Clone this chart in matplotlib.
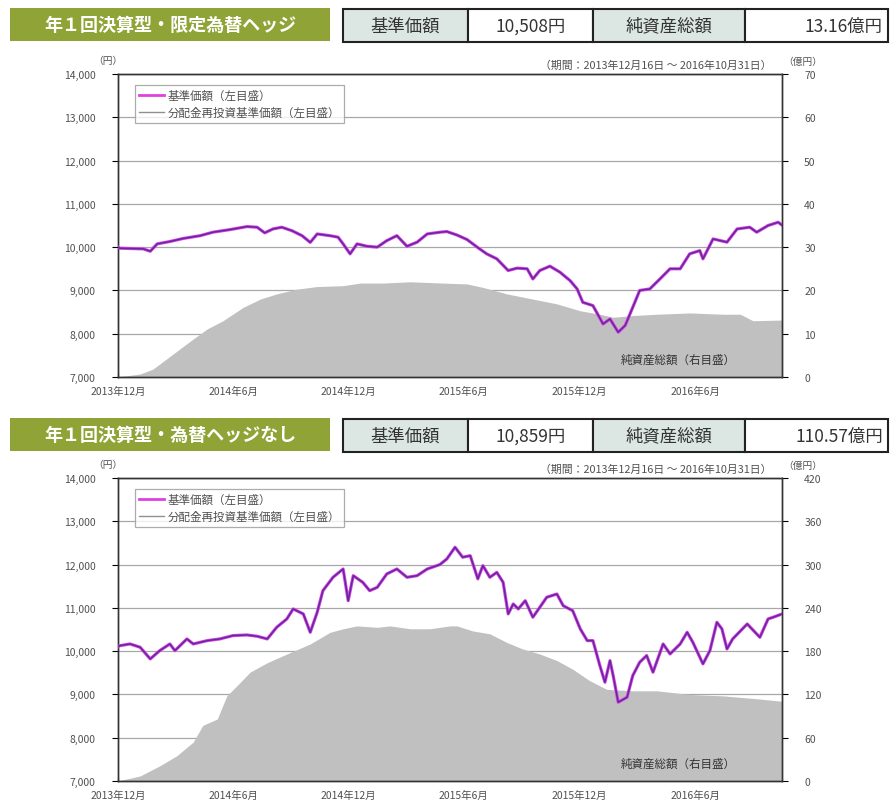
import matplotlib
matplotlib.use("Agg")
import matplotlib.pyplot as plt
import matplotlib.dates as mdates
from matplotlib.patches import Rectangle
from matplotlib.lines import Line2D
import datetime as dt

plt.rcParams['font.family'] = ['Noto Sans CJK JP', 'DejaVu Sans']

# ---------------- data ----------------
top_title = "年１回決算型・限定為替ヘッジ"
top_table = ["基準価額", "10,508円", "純資産総額", "13.16億円"]
bot_title = "年１回決算型・為替ヘッジなし"
bot_table = ["基準価額", "10,859円", "純資産総額", "110.57億円"]

top_price_dates = ["2013-12-16", "2013-12-19", "2014-01-25", "2014-02-05", "2014-02-16", "2014-03-08",
                   "2014-03-29", "2014-04-25", "2014-05-15", "2014-06-11", "2014-07-08", "2014-07-24",
                   "2014-08-05", "2014-08-18", "2014-09-01", "2014-09-17", "2014-10-03", "2014-10-16",
                   "2014-10-27", "2014-11-16", "2014-11-29", "2014-12-07", "2014-12-18", "2014-12-29",
                   "2015-01-14", "2015-01-30", "2015-02-14", "2015-03-02", "2015-03-18", "2015-04-03",
                   "2015-04-19", "2015-05-09", "2015-05-20", "2015-06-05", "2015-06-21", "2015-07-07",
                   "2015-07-22", "2015-08-07", "2015-08-25", "2015-09-08", "2015-09-24", "2015-10-03",
                   "2015-10-14", "2015-10-30", "2015-11-15", "2015-12-01", "2015-12-12", "2015-12-21",
                   "2016-01-06", "2016-01-22", "2016-02-02", "2016-02-15", "2016-02-26", "2016-03-08",
                   "2016-03-20", "2016-04-05", "2016-04-21", "2016-05-07", "2016-05-23", "2016-06-07",
                   "2016-06-23", "2016-06-28", "2016-07-14", "2016-08-05", "2016-08-21", "2016-09-10",
                   "2016-09-21", "2016-10-09", "2016-10-25", "2016-10-31"]
top_price_vals = [10000, 9975, 9960, 9905, 10075, 10130,
                  10200, 10265, 10345, 10405, 10475, 10460,
                  10330, 10420, 10460, 10380, 10265, 10110,
                  10305, 10265, 10230, 10075, 9845, 10075,
                  10020, 10000, 10150, 10265, 10020, 10115,
                  10305, 10345, 10360, 10280, 10175, 10000,
                  9845, 9730, 9460, 9515, 9500, 9265,
                  9460, 9560, 9420, 9225, 9035, 8725,
                  8650, 8225, 8340, 8035, 8190, 8575,
                  9000, 9035, 9265, 9500, 9500, 9845,
                  9920, 9730, 10190, 10115, 10420, 10460,
                  10345, 10500, 10575, 10508]

top_nav_dates = ["2013-12-16", "2014-01-20", "2014-02-09", "2014-03-03", "2014-03-24", "2014-04-14",
                 "2014-05-06", "2014-05-31", "2014-07-02", "2014-07-29", "2014-08-24", "2014-09-25",
                 "2014-10-27", "2014-12-07", "2015-01-03", "2015-02-08", "2015-03-23", "2015-05-14",
                 "2015-06-21", "2015-07-16", "2015-08-23", "2015-10-03", "2015-11-10", "2015-12-17",
                 "2016-01-17", "2016-02-07", "2016-03-09", "2016-04-16", "2016-06-07", "2016-07-30",
                 "2016-08-26", "2016-09-15", "2016-10-31"]
top_nav_vals = [0, 0.7, 1.8, 4.2, 6.5, 8.8,
                11.1, 13.0, 16.1, 18.0, 19.2, 20.3,
                20.9, 21.1, 21.7, 21.7, 22.0, 21.7,
                21.5, 20.7, 19.2, 18.0, 16.9, 15.3,
                14.5, 13.8, 14.2, 14.5, 14.8, 14.5,
                14.5, 13.0, 13.16]

bot_price_dates = ["2013-12-16", "2013-12-19", "2014-01-04", "2014-01-20", "2014-02-05", "2014-02-20",
                   "2014-03-08", "2014-03-16", "2014-04-04", "2014-04-14", "2014-05-06", "2014-05-26",
                   "2014-06-16", "2014-07-08", "2014-07-24", "2014-08-09", "2014-08-24", "2014-09-09",
                   "2014-09-19", "2014-10-05", "2014-10-16", "2014-10-27", "2014-11-05", "2014-11-21",
                   "2014-12-07", "2014-12-15", "2014-12-23", "2015-01-07", "2015-01-18", "2015-01-30",
                   "2015-02-14", "2015-03-02", "2015-03-18", "2015-04-03", "2015-04-19", "2015-05-09",
                   "2015-05-20", "2015-06-02", "2015-06-14", "2015-06-26", "2015-07-08", "2015-07-16",
                   "2015-07-27", "2015-08-07", "2015-08-17", "2015-08-25", "2015-09-02", "2015-09-10",
                   "2015-09-21", "2015-10-03", "2015-10-14", "2015-10-25", "2015-11-10", "2015-11-20",
                   "2015-12-05", "2015-12-17", "2015-12-28", "2016-01-06", "2016-01-17", "2016-01-25",
                   "2016-02-02", "2016-02-07", "2016-02-15", "2016-02-29", "2016-03-09", "2016-03-20",
                   "2016-03-31", "2016-04-10", "2016-04-26", "2016-05-07", "2016-05-23", "2016-06-03",
                   "2016-06-12", "2016-06-28", "2016-07-09", "2016-07-20", "2016-07-28", "2016-08-05",
                   "2016-08-14", "2016-09-06", "2016-09-26", "2016-10-09", "2016-10-17", "2016-10-31"]
bot_price_vals = [10100, 10127, 10166, 10090, 9820, 10012,
                  10166, 10012, 10282, 10166, 10243, 10282,
                  10360, 10374, 10344, 10282, 10552, 10744,
                  10975, 10860, 10436, 10898, 11397, 11706,
                  11898, 11166, 11744, 11590, 11397, 11475,
                  11783, 11898, 11706, 11744, 11898, 12000,
                  12130, 12400, 12170, 12205, 11670, 11975,
                  11706, 11820, 11590, 10860, 11090, 10975,
                  11166, 10783, 11013, 11245, 11320, 11050,
                  10935, 10513, 10243, 10243, 9665, 9282,
                  9781, 9435, 8820, 8935, 9435, 9744,
                  9898, 9513, 10166, 9935, 10166, 10436,
                  10205, 9705, 10012, 10667, 10513, 10051,
                  10282, 10628, 10320, 10744, 10783, 10859]

bot_nav_dates = ["2013-12-16", "2014-01-20", "2014-02-20", "2014-03-19", "2014-04-14", "2014-04-29",
                 "2014-05-22", "2014-06-06", "2014-06-22", "2014-07-13", "2014-08-09", "2014-09-09",
                 "2014-10-16", "2014-11-16", "2014-12-07", "2014-12-29", "2015-01-30", "2015-02-19",
                 "2015-03-23", "2015-04-23", "2015-05-25", "2015-06-05", "2015-06-30", "2015-07-27",
                 "2015-08-23", "2015-09-17", "2015-10-14", "2015-11-10", "2015-12-05", "2016-01-01",
                 "2016-01-28", "2016-03-09", "2016-04-16", "2016-06-07", "2016-07-30", "2016-09-21",
                 "2016-10-31"]
bot_nav_vals = [0, 7, 21, 35, 54, 77,
                86, 118, 132, 151, 164, 176,
                190, 206, 211, 215, 213, 215,
                211, 211, 215, 215, 208, 204,
                192, 183, 176, 167, 155, 139,
                127, 125, 125, 120, 118, 114,
                110.57]

tick_dates = ["2013-12-16", "2014-06-16", "2014-12-16", "2015-06-16", "2015-12-16", "2016-06-16"]
tick_labels = ["2013年12月", "2014年6月", "2014年12月", "2015年6月", "2015年12月", "2016年6月"]
left_ticks = [7000, 8000, 9000, 10000, 11000, 12000, 13000, 14000]
top_right_ticks = [0, 10, 20, 30, 40, 50, 60, 70]
bot_right_ticks = [0, 60, 120, 180, 240, 300, 360, 420]

legend_labels = ["基準価額（左目盛）", "分配金再投資基準価額（左目盛）"]
nav_label = "純資産総額（右目盛）"
period_text = "（期間：2013年12月16日 ～ 2016年10月31日）"
left_unit = "（円）"
right_unit = "（億円）"

# ---------------- drawing ----------------
W, H = 893, 803
fig = plt.figure(figsize=(W / 100, H / 100), dpi=100)
fig.patch.set_facecolor("white")

TXT = "#505050"
GREEN = "#8FA336"
CELL_BG = "#DCE7E3"
MAGENTA = "#E040E0"
CORE = "#5E2AA0"


def d2n(lst):
    return mdates.date2num([dt.datetime.strptime(s, "%Y-%m-%d") for s in lst])


def px_rect(x0, y0, x1, y1):
    return [x0 / W, 1 - y1 / H, (x1 - x0) / W, (y1 - y0) / H]


def header(y0, y1, title, cells):
    r = px_rect(10, y0, 330, y1)
    fig.patches.append(Rectangle((r[0], r[1]), r[2], r[3], transform=fig.transFigure,
                                 facecolor=GREEN, edgecolor="none"))
    fig.text(r[0] + r[2] / 2, r[1] + r[3] / 2, title, color="white", fontsize=13,
             fontweight="bold", ha="center", va="center")
    bounds = [343, 468, 593, 745, 888]
    for i in range(4):
        rr = px_rect(bounds[i], y0 + 1, bounds[i + 1], y1 + 1)
        fc = CELL_BG if i % 2 == 0 else "white"
        fig.patches.append(Rectangle((rr[0], rr[1]), rr[2], rr[3], transform=fig.transFigure,
                                     facecolor=fc, edgecolor="#222222", linewidth=1.5))
        if i == 3:
            fig.text(rr[0] + rr[2] - 5 / W, rr[1] + rr[3] / 2, cells[i], color="#333333",
                     fontsize=12.5, ha="right", va="center")
        else:
            fig.text(rr[0] + rr[2] / 2, rr[1] + rr[3] / 2, cells[i], color="#333333",
                     fontsize=12.5, ha="center", va="center")


def panel(ytop, ybot, pdates, pvals, ndates, nvals, rticks):
    rect = px_rect(118, ytop, 782, ybot)
    ax2 = fig.add_axes(rect)
    ax = ax2.twinx()
    ax2.yaxis.tick_right()
    ax2.yaxis.set_label_position("right")
    ax.yaxis.tick_left()
    ax.yaxis.set_label_position("left")

    xn = d2n(ndates)
    ax2.fill_between(xn, 0, nvals, color="#C0C0C0", linewidth=0, zorder=2)
    ax2.set_ylim(rticks[0], rticks[-1])
    ax2.set_yticks(rticks)
    ax2.set_yticklabels([str(v) for v in rticks])
    ax2.set_axisbelow(True)
    ax2.yaxis.grid(True, color="#A8A8A8", linewidth=0.9, zorder=0)
    ax2.xaxis.grid(False)

    xp = d2n(pdates)
    ax.plot(xp, pvals, color=MAGENTA, linewidth=2.3, solid_joinstyle="round", zorder=3)
    ax.plot(xp, pvals, color=CORE, linewidth=1.1, solid_joinstyle="round", zorder=4)
    ax.set_ylim(7000, 14000)
    ax.set_yticks(left_ticks)
    ax.set_yticklabels([f"{v:,}" for v in left_ticks])

    xmin, xmax = d2n(["2013-12-16", "2016-10-31"])
    for a in (ax, ax2):
        a.set_xlim(xmin, xmax)
        for s in a.spines.values():
            s.set_color("#333333")
            s.set_linewidth(1.0)
    ax2.set_xticks(d2n(tick_dates))
    ax2.set_xticklabels(tick_labels)
    ax2.tick_params(axis="x", length=3, direction="in", labelsize=7.5, labelcolor=TXT, pad=6)
    ax2.tick_params(axis="y", length=4, direction="out", labelsize=7.5, labelcolor=TXT, pad=12)
    ax.tick_params(axis="y", length=4, direction="out", labelsize=7.5, labelcolor=TXT, pad=12)

    handles = [Line2D([], [], color=MAGENTA, linewidth=2.0),
               Line2D([], [], color="#909090", linewidth=1.0)]
    leg = ax.legend(handles, legend_labels, loc="upper left", bbox_to_anchor=(0.025, 0.965),
                    frameon=True, fancybox=False, edgecolor="#999999", fontsize=8.3,
                    handlelength=2.2, handletextpad=0.3, borderpad=0.35, labelspacing=0.35,
                    borderaxespad=0)
    leg.get_frame().set_linewidth(0.9)
    for t in leg.get_texts():
        t.set_color(TXT)
    leg.set_zorder(10)

    ax.text(0.93, 0.06, nav_label, transform=ax.transAxes, fontsize=8.3,
            color="#333333", ha="right", va="center", zorder=6)

    fig.text(93 / W, 1 - (ytop - 14) / H, left_unit, fontsize=7, color=TXT, ha="left", va="center")
    fig.text(783 / W, 1 - (ytop - 13) / H, right_unit, fontsize=7, color=TXT, ha="left", va="center")
    fig.text(772 / W, 1 - (ytop - 9) / H, period_text, fontsize=7.8, color=TXT, ha="right",
             va="center")
    return ax, ax2


header(9, 42, top_title, top_table)
panel(75, 378, top_price_dates, top_price_vals, top_nav_dates, top_nav_vals, top_right_ticks)
header(419, 452, bot_title, bot_table)
panel(479, 782, bot_price_dates, bot_price_vals, bot_nav_dates, bot_nav_vals, bot_right_ticks)

fig.savefig("out.png", dpi=100, facecolor="white")
